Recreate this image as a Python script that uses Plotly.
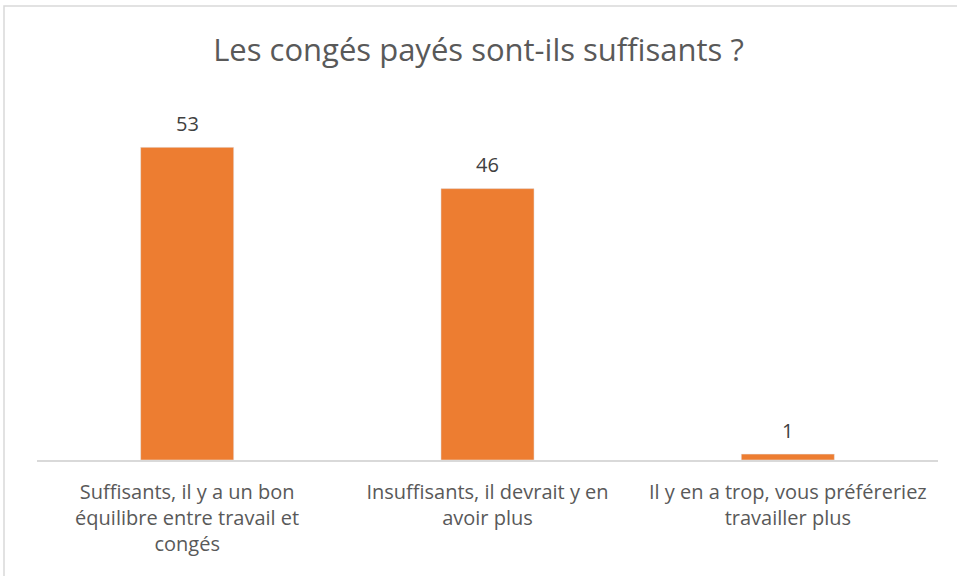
import plotly.graph_objects as go

categories = [
    "Suffisants, il y a un bon<br>équilibre entre travail et<br>congés",
    "Insuffisants, il devrait y en<br>avoir plus",
    "Il y en a trop, vous préféreriez<br>travailler plus",
]
values = [53, 46, 1]

W, H = 957, 576
left, right, top, bottom = 37, 19, 106, 116
pw = W - left - right
ph = H - top - bottom

fig = go.Figure()
fig.add_trace(go.Bar(
    x=categories, y=values,
    marker_color="#ED7D31",
    width=0.31,
    cliponaxis=False,
))

# data labels above the bars
for c, v in zip(categories, values):
    fig.add_annotation(x=c, y=v, text=str(v), showarrow=False,
                       yanchor="middle", yshift=24,
                       font=dict(size=20, color="#404040"))

font = "Open Sans, sans-serif"

fig.update_layout(
    width=W, height=H,
    margin=dict(l=left, r=right, t=top, b=bottom),
    paper_bgcolor="white", plot_bgcolor="white",
    font=dict(family=font, color="#595959"),
    title=dict(text="Les congés payés sont-ils suffisants ?", x=0.5, xanchor="center",
               y=1 - 50 / H, yanchor="middle",
               font=dict(size=31, color="#595959", family=font)),
    showlegend=False,
    xaxis=dict(showline=True, linecolor="#D9D9D9", linewidth=1.5,
               tickfont=dict(size=20, color="#595959"), ticks="", showgrid=False,
               ticklabelstandoff=13),
    yaxis=dict(range=[0, 60], visible=False, showgrid=False),
)

# chart border
fig.add_shape(type="rect", xref="paper", yref="paper",
              x0=(4 - left) / pw, x1=(W + 5 - left) / pw,
              y0=(H - bottom - (H + 5)) / ph, y1=(H - bottom - 6) / ph,
              line=dict(color="#D9D9D9", width=1.5), layer="below")

fig.write_html("out.html", config={"displayModeBar": False},
               post_script="document.body.style.margin='0';")
